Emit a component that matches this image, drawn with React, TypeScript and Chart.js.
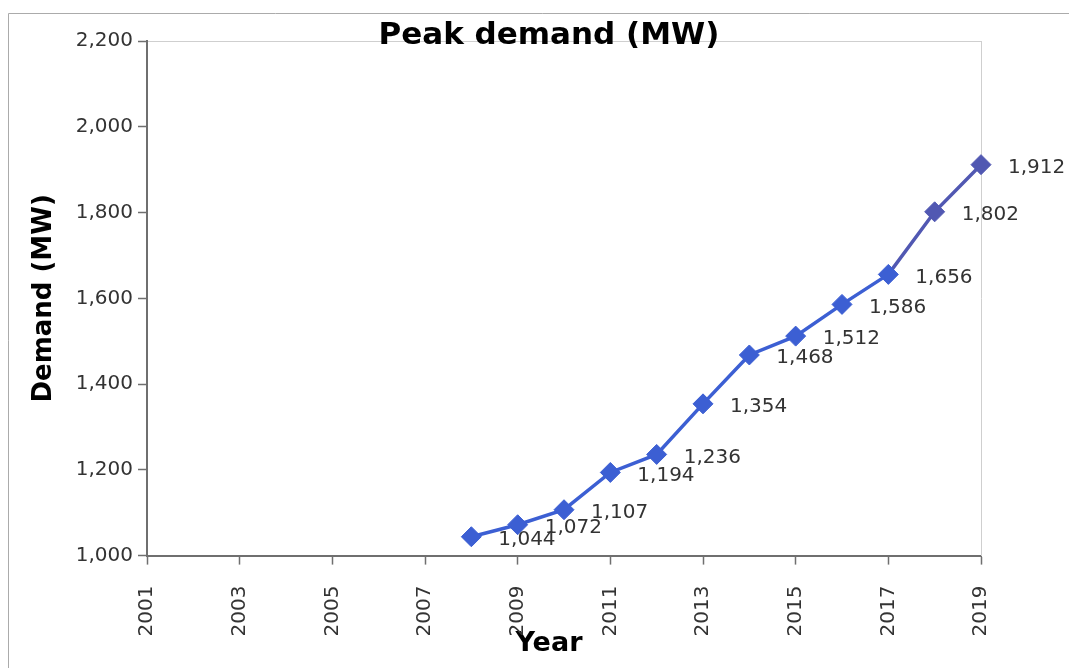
import React, { useEffect, useRef } from 'react';
import { Chart, registerables } from 'chart.js';

Chart.register(...registerables);

const years = [2008, 2009, 2010, 2011, 2012, 2013, 2014, 2015, 2016, 2017, 2018, 2019];
const demand = [1044, 1072, 1107, 1194, 1236, 1354, 1468, 1512, 1586, 1656, 1802, 1912];
const xTicks = [2001, 2003, 2005, 2007, 2009, 2011, 2013, 2015, 2017, 2019];
const yTicks = [1000, 1200, 1400, 1600, 1800, 2000, 2200];
const chartTitle = 'Peak demand (MW)';
const xTitle = 'Year';
const yTitle = 'Demand (MW)';

const FONT = "'DejaVu Sans', 'Verdana', sans-serif";
const fmt = (v: number) => v.toLocaleString('en-US');

const AXIS = '#6f6f6f';
const BLUE = '#3c5fd3';
const PURPLE = '#5158b2';

const framePlugin = {
  id: 'frameLines',
  beforeDraw(chart: any) {
    const { ctx, chartArea: a, width, height } = chart;
    ctx.save();
    ctx.lineWidth = 1;
    ctx.strokeStyle = '#ababab';
    ctx.beginPath();
    ctx.moveTo(0.5, height);
    ctx.lineTo(0.5, 5.5);
    ctx.lineTo(width, 5.5);
    ctx.stroke();
    ctx.strokeStyle = '#cfcfcf';
    const t = Math.round(a.top) + 0.5;
    ctx.beginPath();
    ctx.moveTo(a.left, t);
    ctx.lineTo(a.right, t);
    ctx.stroke();
    ctx.restore();
  },
};

const labelPlugin = {
  id: 'pointValueLabels',
  afterDatasetsDraw(chart: any) {
    const meta = chart.getDatasetMeta(0);
    const ctx = chart.ctx;
    ctx.save();
    ctx.font = `20px ${FONT}`;
    ctx.fillStyle = '#333333';
    ctx.textAlign = 'left';
    ctx.textBaseline = 'middle';
    meta.data.forEach((el: any, i: number) => {
      ctx.fillText(fmt(demand[i]), el.x + 27, el.y + 3);
    });
    ctx.restore();
  },
};

export default function App() {
  const ref = useRef<HTMLCanvasElement | null>(null);

  useEffect(() => {
    if (!ref.current) return;
    const prevOverflow = document.body.style.overflow;
    document.body.style.overflow = 'hidden';
    const pointColor = (c: any) => (c.dataIndex >= 10 ? PURPLE : BLUE);
    const chart = new Chart(ref.current, {
      type: 'line',
      data: {
        datasets: [
          {
            label: chartTitle,
            data: years.map((x, i) => ({ x, y: demand[i] })),
            borderColor: BLUE,
            borderWidth: 3.5,
            tension: 0,
            clip: false,
            pointStyle: 'rectRot',
            pointRadius: 10,
            pointBorderWidth: 1,
            pointBackgroundColor: pointColor,
            pointBorderColor: pointColor,
            segment: {
              borderColor: (c: any) => (c.p0DataIndex >= 9 ? PURPLE : BLUE),
            },
          } as any,
        ],
      },
      options: {
        animation: false,
        responsive: true,
        maintainAspectRatio: false,
        layout: { padding: { left: 21, right: 8, top: 0, bottom: 8 } },
        plugins: {
          legend: { display: false },
          tooltip: { enabled: false },
          title: {
            display: true,
            text: chartTitle,
            color: '#000000',
            font: { family: FONT, size: 31, weight: 'bold', lineHeight: 1.2 },
            padding: { top: 9, bottom: -13 },
          },
          subtitle: {
            display: true,
            position: 'bottom',
            text: xTitle,
            color: '#000000',
            font: { family: FONT, size: 27, weight: 'bold', lineHeight: 1.2 },
            padding: { top: -12, bottom: 0 },
          },
        },
        scales: {
          x: {
            type: 'linear',
            position: 'bottom',
            min: xTicks[0],
            max: xTicks[xTicks.length - 1],
            afterBuildTicks: (s: any) => {
              s.ticks = xTicks.map((value) => ({ value }));
            },
            afterFit: (s: any) => {
              s.height = 84;
            },
            ticks: {
              autoSkip: false,
              minRotation: 90,
              maxRotation: 90,
              padding: 21,
              color: '#333333',
              font: { family: FONT, size: 20 },
              callback: (v: any) => String(v),
            },
            grid: {
              display: true,
              drawOnChartArea: false,
              drawTicks: true,
              tickLength: 9,
              tickColor: AXIS,
              tickWidth: 1.5,
            },
            border: { display: true, color: AXIS, width: 2 },
          },
          y: {
            type: 'linear',
            position: 'left',
            min: yTicks[0],
            max: yTicks[yTicks.length - 1],
            afterBuildTicks: (s: any) => {
              s.ticks = yTicks.map((value) => ({ value }));
            },
            afterFit: (s: any) => {
              s.width = 118;
            },
            ticks: {
              padding: 5,
              color: '#333333',
              font: { family: FONT, size: 20 },
              callback: (v: any) => fmt(Number(v)),
            },
            grid: {
              display: true,
              drawOnChartArea: false,
              drawTicks: true,
              tickLength: 9,
              tickColor: AXIS,
              tickWidth: 1.5,
            },
            border: { display: true, color: AXIS, width: 2 },
            title: {
              display: true,
              text: yTitle,
              color: '#000000',
              font: { family: FONT, size: 26, weight: 'bold', lineHeight: 1.2 },
              padding: { top: 0, bottom: 0 },
            },
          },
          yRight: {
            type: 'linear',
            position: 'right',
            display: true,
            afterFit: (s: any) => {
              s.width = 88;
            },
            ticks: { display: false },
            grid: { display: false },
            border: { display: true, color: '#cfcfcf', width: 1 },
          },
        },
      } as any,
      plugins: [framePlugin, labelPlugin],
    });
    return () => {
      chart.destroy();
      document.body.style.overflow = prevOverflow;
    };
  }, []);

  return (
    <div style={{ position: 'relative', width: 1069, height: 660 }}>
      <canvas ref={ref} />
    </div>
  );
}
